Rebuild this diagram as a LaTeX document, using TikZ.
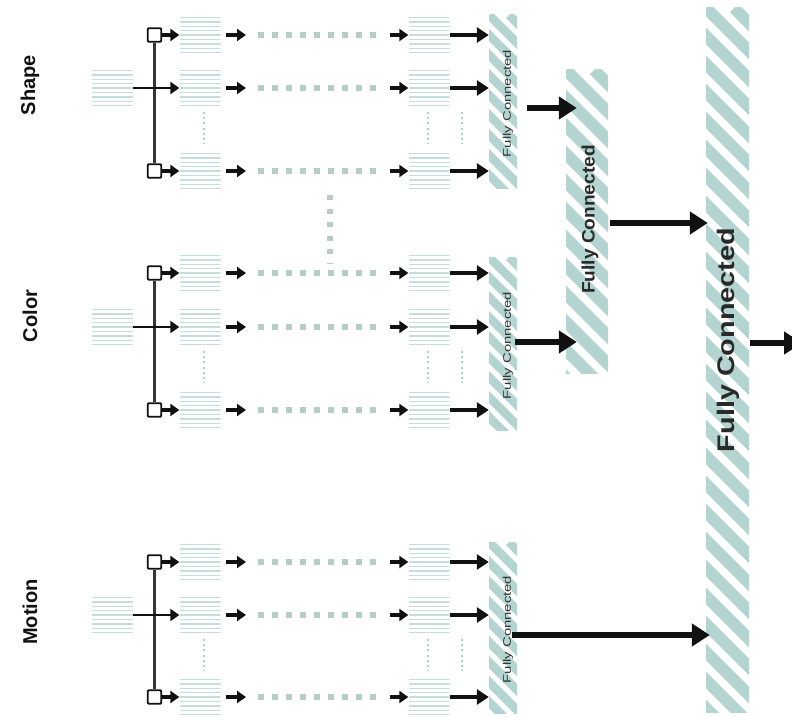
\documentclass[tikz,border=0pt]{standalone}
\usepackage{fontspec}
\setmainfont{Liberation Sans}
\usepackage{graphicx}
\usetikzlibrary{arrows.meta,calc}
\definecolor{stripec}{HTML}{B3D4D0}
\definecolor{stackc}{HTML}{C6DEDB}
\definecolor{dotc}{HTML}{B5CCC9}
\definecolor{inkc}{HTML}{111111}
\tikzset{
  stackbox/.style={minimum width=41pt, minimum height=39pt, inner sep=0pt,
    path picture={\foreach \i in {0,...,8}{
      \draw[stackc, line width=1.4pt]
        ([yshift=-2pt-\i*4.4pt]path picture bounding box.north west) --
        ([yshift=-2pt-\i*4.4pt]path picture bounding box.north east);}}},
  fcbar/.style 2 args={inner sep=0pt,
    path picture={\foreach \k in {-40,...,4}{
      \draw[stripec, line width=#2]
        ([xshift=\k*#1]path picture bounding box.north west) -- ++(800pt,-800pt);}}},
  sqbox/.style={draw=inkc, fill=white, line width=1.9pt, minimum size=13.5pt, inner sep=0pt, rounded corners=1pt},
  vline/.style={draw=inkc!85, line width=2.4pt},
  arrS/.style={draw=inkc, line width=3.2pt, -{Triangle[length=9pt,width=12pt]}},
  arrM/.style={draw=inkc, line width=4pt, -{Triangle[length=12pt,width=15pt]}},
  arrL/.style={draw=inkc, line width=5.5pt, -{Triangle[length=18pt,width=22pt]}},
  dotline/.style={draw=dotc, line width=5.5pt, dash pattern=on 6pt off 8pt},
  vdots/.style={draw=dotc, line width=1.6pt, dash pattern=on 2pt off 3.2pt},
  bigdots/.style={draw=dotc, line width=6pt, dash pattern=on 5pt off 8.5pt},
  grouplabel/.style={rotate=90, font=\bfseries\fontsize{20}{24}\selectfont, text=inkc},
  fcsmall/.style={rotate=90, font=\fontsize{11}{13}\selectfont, text=inkc!85, inner sep=0pt},
  fcmid/.style={rotate=90, font=\bfseries\fontsize{18}{22}\selectfont, text=inkc!90, inner sep=0pt},
  fcbig/.style={rotate=90, font=\bfseries\fontsize{24}{28}\selectfont, text=inkc!90, inner sep=0pt}
}
\begin{document}
\begin{tikzpicture}[x=1pt,y=-1pt]
\useasboundingbox (0,0) rectangle (792,717);

% fully connected bars
\node[fcbar={20pt}{8.5pt}, minimum width=28pt, minimum height=173pt] (fc1) at (503,101.5) {};
\node[fcbar={20pt}{8.5pt}, minimum width=28pt, minimum height=173pt] (fc2) at (503,343.5) {};
\node[fcbar={20pt}{8.5pt}, minimum width=28pt, minimum height=171pt] (fc3) at (503,627.5) {};
\node[fcbar={28pt}{12pt}, minimum width=42pt, minimum height=303pt] (fcm) at (587,221.5) {};
\node[fcbar={28pt}{12pt}, minimum width=43pt, minimum height=704pt] (fcb) at (727.5,360) {};

\node[fcsmall] (t1) at ([xshift=5pt,yshift=-2pt]fc1.center) {\scalebox{1.35}[1]{Fully Connected}};
\node[fcsmall] (t2) at ([xshift=5pt,yshift=-2pt]fc2.center) {\scalebox{1.35}[1]{Fully Connected}};
\node[fcsmall] (t3) at ([xshift=5pt,yshift=-2pt]fc3.center) {\scalebox{1.35}[1]{Fully Connected}};
\node[fcmid] (tm) at ([xshift=3pt,yshift=2pt]fcm.center) {\scalebox{1.06}[1]{Fully Connected}};
\node[fcbig] (tb) at ([xshift=1pt,yshift=20pt]fcb.center) {\scalebox{1.2}[1]{Fully Connected}};

% group labels
\node[grouplabel] (lshape) at (30,85) {Shape};
\node[grouplabel] (lcolor) at (30,316) {Color};
\node[grouplabel] (lmotion) at (30,612) {Motion};

% the three groups
\foreach \g/\ya/\yb/\yc in {1/35/88/171, 2/273/327/410, 3/562/615/697}{
  \node[stackbox] (in\g) at (112.5,\yb) {};
  \node[sqbox] (sqa\g) at (154.5,\ya) {};
  \node[sqbox] (sqc\g) at (154.5,\yc) {};
  \draw[vline] (sqa\g) -- (sqc\g);
  \foreach \r/\y in {a/\ya, b/\yb, c/\yc}{
    \node[stackbox] (A\g\r) at (200,\y) {};
    \node[stackbox] (B\g\r) at (429,\y) {};
    \coordinate (dl\g\r) at (258,\y);
    \coordinate (dr\g\r) at (382,\y);
    \draw[dotline] (dl\g\r) -- (dr\g\r);
    \draw[arrS] ([xshift=5pt]A\g\r.east) -- ([xshift=-12pt]dl\g\r);
    \draw[arrS] ([xshift=8pt]dr\g\r) -- (B\g\r.west);
    \draw[arrM] (B\g\r.east) -- (B\g\r.east -| fc\g.west);
  }
  \draw[arrS] (sqa\g.east) -- (A\g a.west);
  \draw[arrS] (sqc\g.east) -- (A\g c.west);
  \draw[arrS, line width=2.6pt] (in\g.east) -- (A\g b.west);
  \draw[vdots] (204,\yb+24) -- (204,\yb+56);
  \draw[vdots] (428,\yb+24) -- (428,\yb+56);
  \draw[vdots] (462,\yb+24) -- (462,\yb+56);
}

\draw[bigdots] (330,195) -- (330,263);

% connections between fully connected layers
\coordinate (out) at (802,343);
\draw[arrL] ([xshift=10pt,yshift=-6.5pt]fc1.east) -- ([xshift=11pt,yshift=-6.5pt]fc1.east -| fcm.west);
\draw[arrL] ([xshift=-2pt,yshift=1.5pt]fc2.east) -- ([xshift=11pt,yshift=1.5pt]fc2.east -| fcm.west);
\draw[arrL] ([xshift=2pt,yshift=-1.5pt]fcm.east) -- ([xshift=2pt,yshift=-1.5pt]fcm.east -| fcb.west);
\draw[arrL] ([xshift=-5pt,yshift=-7.5pt]fc3.east) -- ([xshift=4pt,yshift=-7.5pt]fc3.east -| fcb.west);
\draw[arrL] ([xshift=1pt]fcb.east |- out) -- (out);
\end{tikzpicture}
\end{document}
